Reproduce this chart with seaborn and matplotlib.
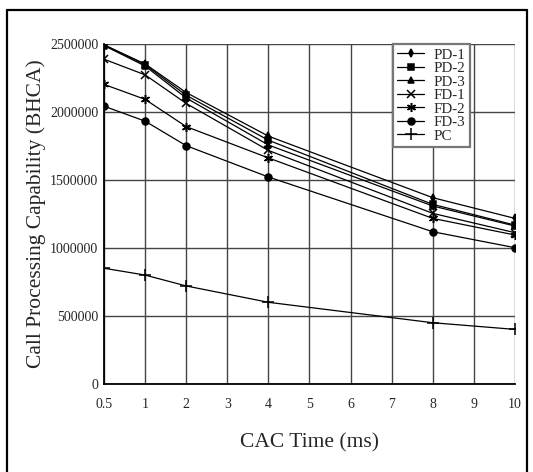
import matplotlib
matplotlib.use("Agg")
import matplotlib.pyplot as plt
from matplotlib.lines import Line2D
import seaborn as sns
import pandas as pd

# category ticks on the x axis (evenly spaced, not linear)
x_ticks = ['0.5', '1', '2', '3', '4', '5', '6', '7', '8', '9', '10']
cac_time = ['0.5', '1', '2', '4', '8', '10']

pd_1 = [2490000, 2350000, 2140000, 1820000, 1368000, 1216000]
pd_2 = [2490000, 2345000, 2120000, 1790000, 1319000, 1167000]
pd_3 = [2485000, 2335000, 2100000, 1755000, 1307000, 1160000]
fd_1 = [2385000, 2270000, 2060000, 1715000, 1253000, 1111000]
fd_2 = [2200000, 2090000, 1890000, 1660000, 1216000, 1094000]
fd_3 = [2040000, 1930000, 1750000, 1520000, 1118000, 1001000]
pc = [850000, 800000, 720000, 600000, 450000, 401000]

series = {'PD-1': pd_1, 'PD-2': pd_2, 'PD-3': pd_3,
          'FD-1': fd_1, 'FD-2': fd_2, 'FD-3': fd_3, 'PC': pc}
markers = {'PD-1': ('d', 4), 'PD-2': ('s', 4.5), 'PD-3': ('^', 4),
           'FD-1': ('x', 5.5), 'FD-2': ((6, 2, 0), 6.5), 'FD-3': ('o', 5),
           'PC': ('+', 9)}

sns.set_style("white")
plt.rcParams['font.family'] = ['Liberation Serif', 'DejaVu Serif']

fig = plt.figure(figsize=(5.33, 4.72), dpi=100)
ax = fig.add_axes([0.1951, 0.1864, 0.7711, 0.7214])

for name, vals in series.items():
    df = pd.DataFrame({'pos': [x_ticks.index(t) for t in cac_time], 'val': vals})
    m, ms = markers[name]
    sns.lineplot(data=df, x='pos', y='val', ax=ax, color='black', linewidth=0.9,
                 marker=m, markersize=ms, markeredgecolor='black',
                 markeredgewidth=1.1, label=name)

ax.set_xlim(0, len(x_ticks) - 1)
ax.set_ylim(0, 2500000)
ax.set_xticks(range(len(x_ticks)))
ax.set_xticklabels(x_ticks)
ax.set_yticks(range(0, 2500001, 500000))
ax.set_yticklabels([str(v) for v in range(0, 2500001, 500000)])
ax.tick_params(axis='both', length=0, labelsize=10)
ax.tick_params(axis='x', pad=10)
ax.tick_params(axis='y', pad=4)

ax.grid(True, color='#444444', linewidth=1.0)
ax.set_axisbelow(True)
for s in ['top', 'right']:
    ax.spines[s].set_visible(False)
for s in ['left', 'bottom']:
    ax.spines[s].set_color('black')
    ax.spines[s].set_linewidth(1.3)

ax.set_xlabel('CAC Time (ms)', fontsize=15.5, labelpad=16)
ax.set_ylabel('Call Processing Capability (BHCA)', fontsize=15.5, labelpad=3)

leg = ax.legend(loc='upper left', bbox_to_anchor=(0.703, 1.0), borderaxespad=0,
                fontsize=10.8, frameon=True, fancybox=False, labelspacing=0.0,
                handlelength=1.8, handletextpad=0.6, borderpad=0.3)
leg.get_frame().set_edgecolor('#777777')
leg.get_frame().set_linewidth(1.6)
leg.get_frame().set_facecolor('white')
leg.get_frame().set_alpha(1)

# outer frame (left, top, right)
for xs, ys in [([0.0137, 0.0137], [0.0, 0.979]), ([0.0137, 0.989], [0.979, 0.979]),
               ([0.989, 0.989], [0.979, 0.0])]:
    fig.add_artist(Line2D(xs, ys, color='black', linewidth=1.6,
                          transform=fig.transFigure))

plt.savefig('out.png', dpi=100)
